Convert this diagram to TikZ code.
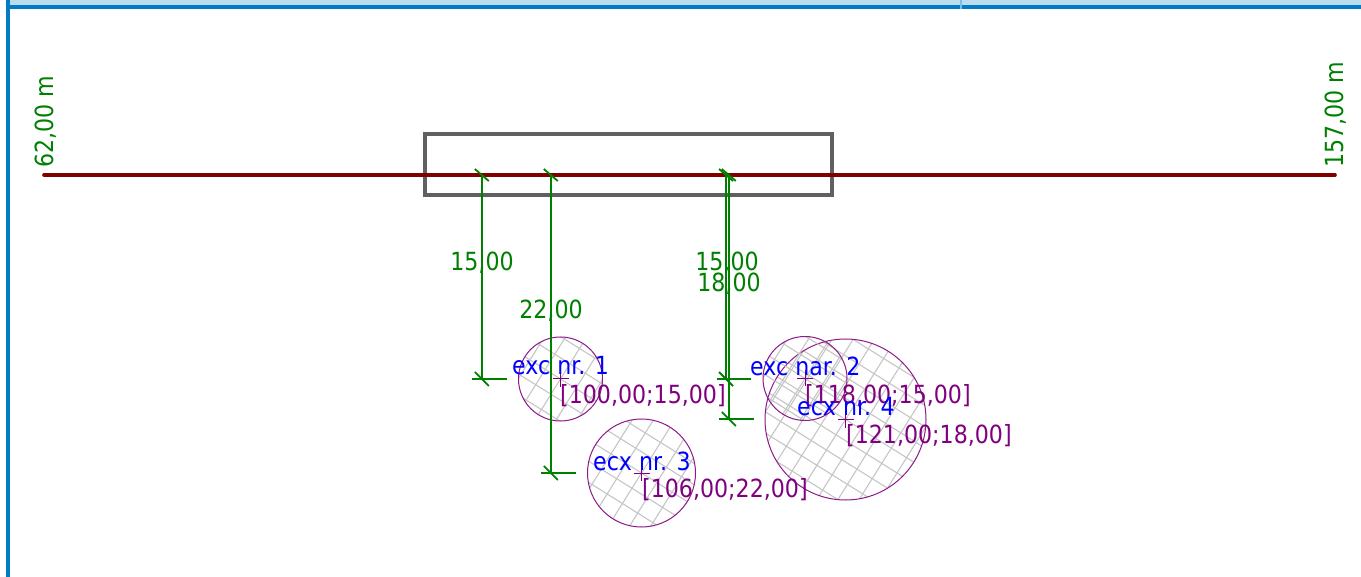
\documentclass[tikz,border=0pt]{standalone}
\usepackage{fontspec}
\setmainfont[FakeStretch=0.885]{DejaVu Sans}
\definecolor{frameblue}{RGB}{0,124,196}
\definecolor{bandblue}{RGB}{188,221,240}
\definecolor{sepblue}{RGB}{125,190,230}
\definecolor{axisred}{RGB}{128,0,0}
\definecolor{dimgreen}{RGB}{0,128,0}
\definecolor{excpurple}{RGB}{128,0,128}
\definecolor{boxgray}{RGB}{96,96,96}
\definecolor{hatchgray}{RGB}{198,198,198}
\tikzset{
 x=1pt,y=-1pt,
 txt/.style={inner sep=0pt,font=\fontsize{25}{25}\selectfont},
 dimtext/.style={txt,text=dimgreen},
 nametext/.style={txt,text=blue,anchor=west},
 coordtext/.style={txt,text=excpurple,anchor=west},
 dimline/.style={draw=dimgreen,line width=1.8pt},
 tick/.style={draw=dimgreen,line width=1.8pt},
 circ/.style={draw=excpurple!90,line width=1pt},
 hatch/.style={draw=hatchgray,line width=1.1pt},
 cross/.style={draw=excpurple,line width=1pt},
}
\newcommand{\hatchcircle}[3]{%
 \begin{scope}
  \clip (#1,#2) circle [radius=#3];
  \begin{scope}[shift={(#1,#2)},rotate=-32]
   \foreach \k in {-9,...,9}{
     \draw[hatch] (\k*18,-100) -- (\k*18,100);
     \draw[hatch] (-100,\k*18) -- (100,\k*18);
   }
  \end{scope}
 \end{scope}
 \draw[circ] (#1,#2) circle [radius=#3];
 \draw[cross] (#1-8,#2) -- (#1+8,#2) (#1,#2-8) -- (#1,#2+8);
}
\newcommand{\dimmark}[3]{% x, top y, bottom y
 \draw[dimline] (#1,#2) -- (#1,#3);
 \draw[tick] (#1-7,#2-6) -- (#1+7,#2+6);
 \draw[tick] (#1-7,#3-7) -- (#1+7,#3+7);
 \draw[tick] (#1-9.5,#3) -- (#1+25,#3);
}
\begin{document}
\begin{tikzpicture}
\useasboundingbox (0,0) rectangle (1361,577);
\fill[white] (0,0) rectangle (1361,577);
\fill[bandblue] (10,0) rectangle (1361,5);
\fill[frameblue] (6,5) rectangle (1361,9);
\fill[frameblue] (6,0) rectangle (10,577);
\fill[sepblue] (960,0) rectangle (962,9);
% excavations
\hatchcircle{560.5}{379}{42}
\hatchcircle{641.5}{473}{54}
\hatchcircle{845.5}{419.5}{80.5}
\hatchcircle{805}{378.5}{42}
% wall
\draw[boxgray,line width=4pt] (425,134) rectangle (832,195);
% axis
\coordinate (axisL) at (44,175);
\coordinate (axisR) at (1335,175);
\draw[axisred,line width=3.6pt,line cap=round] (axisL) -- (axisR);
\node[dimtext,rotate=90,anchor=west] at (46,168) {62,00 m};
\node[dimtext,rotate=90,anchor=west] at (1336,168) {157,00 m};
% dimensions
\dimmark{481.8}{175}{379}
\dimmark{550.8}{175}{473}
\dimmark{726}{175}{379}
\dimmark{728.8}{175}{419}
\node[dimtext] at (482,263) {15,00};
\node[dimtext] at (551,311) {22,00};
\node[dimtext] at (727,263) {15,00};
\node[dimtext] at (729,284) {18,00};
% labels
\node[nametext] at (512,366) {exc nr. 1};
\node[coordtext] at (560,396) {[100,00;15,00]};
\node[nametext] at (593,461) {ecx nr. 3};
\node[coordtext] at (642,490) {[106,00;22,00]};
\node[nametext] at (750,366) {exc nar. 2};
\node[coordtext] at (805,396) {[118,00;15,00]};
\node[nametext] at (797,407) {ecx nr. 4};
\node[coordtext] at (846,436) {[121,00;18,00]};
\end{tikzpicture}
\end{document}
